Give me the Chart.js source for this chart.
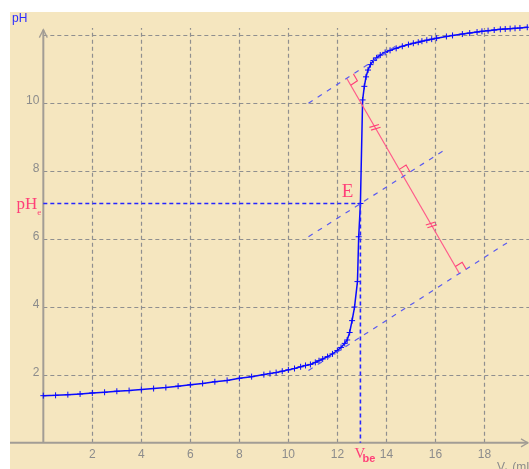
<!DOCTYPE html>
<html>
<head>
<meta charset="utf-8">
<script src="https://cdn.jsdelivr.net/npm/chart.js@4.4.1/dist/chart.umd.min.js"></script>
<style>
  html, body { margin: 0; padding: 0; background: #fff; }
  #chart { display: block; }
</style>
</head>
<body>
<canvas id="chart" width="529" height="469"></canvas>
<script>
// titration curve (V in mL, pH)
const volumes = [0, 0.5, 1.0, 1.5, 2.0, 2.5, 3.0, 3.5, 4.0, 4.5, 5.0, 5.5, 6.0, 6.5, 7.0, 7.5,
  8.0, 8.5, 9.0, 9.25, 9.5, 9.75, 10.0, 10.25, 10.5, 10.7, 10.9, 11.1, 11.25, 11.4, 11.6, 11.8,
  12.0, 12.15, 12.3, 12.4, 12.5, 12.6, 12.7, 12.82, 12.87, 12.94, 13.03,
  13.1, 13.17, 13.25, 13.35, 13.47, 13.6, 13.75, 13.95, 14.15, 14.4, 14.65, 14.9, 15.1,
  15.3, 15.45, 15.65, 15.85, 16.05, 16.45, 16.7, 17.1, 17.4, 17.7, 17.9, 18.15, 18.4, 18.65,
  18.85, 19.05, 19.25, 19.45, 19.75];
const phValues = [1.39, 1.40, 1.42, 1.44, 1.47, 1.49, 1.52, 1.54, 1.57, 1.60, 1.63, 1.67, 1.71, 1.75, 1.80, 1.84,
  1.90, 1.95, 2.01, 2.04, 2.07, 2.11, 2.15, 2.19, 2.24, 2.28, 2.31, 2.37, 2.42, 2.47, 2.54, 2.62,
  2.72, 2.81, 2.93, 3.03, 3.25, 3.6, 4.0, 4.75, 6.07, 7.05, 10.1,
  10.5, 10.78, 10.98, 11.14, 11.26, 11.34, 11.42, 11.50, 11.56, 11.62, 11.68, 11.73, 11.77,
  11.80, 11.83, 11.86, 11.89, 11.92, 11.97, 12.00, 12.04, 12.07, 12.10, 12.12, 12.14, 12.16, 12.18,
  12.19, 12.20, 12.21, 12.22, 12.24];

const xGrid = [2, 4, 6, 8, 10, 12, 14, 16, 18];
const xTickLabels = [2, 4, 6, 8, 10, 12, 14, 16, 18];
const yGrid = [2, 4, 6, 8, 10, 12];
const yTickLabels = [2, 4, 6, 8, 10];

// equivalence point
const eqVolume = 12.94;
const eqPh = 7.05;

// parallel tangents and their perpendicular: [V1, pH1, V2, pH2]
const tangentUpper = [10.82, 10.0, 14.56, 11.77];
const tangentMiddle = [10.82, 6.07, 16.45, 8.66];
const tangentLower = [10.82, 2.13, 19.05, 5.95];
const perpendicular = [12.38, 10.74, 16.98, 4.99];

const seg = s => [{ x: s[0], y: s[1] }, { x: s[2], y: s[3] }];

const curve = volumes.map((v, i) => ({ x: v, y: phValues[i] }));

const pink = "#ff3f78";
const tangentStyle = {
  borderColor: "#5a5af0",
  borderWidth: 1.2,
  borderDash: [5, 6],
  pointRadius: 0,
  showLine: true
};

// pixel helpers
function toPx(chart, v, p) {
  return { x: chart.scales.x.getPixelForValue(v), y: chart.scales.y.getPixelForValue(p) };
}
function segPx(chart, s) {
  return [toPx(chart, s[0], s[1]), toPx(chart, s[2], s[3])];
}
function intersect(a, b) {
  const d1x = a[1].x - a[0].x, d1y = a[1].y - a[0].y;
  const d2x = b[1].x - b[0].x, d2y = b[1].y - b[0].y;
  const den = d1x * d2y - d1y * d2x;
  const t = ((b[0].x - a[0].x) * d2y - (b[0].y - a[0].y) * d2x) / den;
  return { x: a[0].x + t * d1x, y: a[0].y + t * d1y };
}
function unit(a, b) {
  const dx = b.x - a.x, dy = b.y - a.y, l = Math.hypot(dx, dy);
  return { x: dx / l, y: dy / l };
}

const decor = {
  id: "decor",
  beforeDraw(chart) {
    const { ctx, chartArea: a } = chart;
    ctx.save();
    ctx.fillStyle = "#f5e6bf";
    ctx.fillRect(a.left, a.top, a.right - a.left, a.bottom - a.top);
    ctx.restore();
  },
  beforeDatasetsDraw(chart) {
    const { ctx, chartArea: a } = chart;
    const xs = chart.scales.x, ys = chart.scales.y;
    const x0 = xs.getPixelForValue(0), y0 = ys.getPixelForValue(0);
    ctx.save();

    // dashed grid
    ctx.strokeStyle = "#8f8f8f";
    ctx.lineWidth = 1.2;
    ctx.setLineDash([4, 3]);
    xGrid.forEach(v => {
      const x = Math.round(xs.getPixelForValue(v)) + 0.5;
      ctx.beginPath();
      ctx.moveTo(x, y0);
      ctx.lineTo(x, ys.getPixelForValue(12.22));
      ctx.stroke();
    });
    yGrid.forEach(v => {
      const y = Math.round(ys.getPixelForValue(v)) + 0.5;
      ctx.beginPath();
      ctx.moveTo(x0, y);
      ctx.lineTo(a.right, y);
      ctx.stroke();
    });

    // axes
    ctx.setLineDash([]);
    ctx.strokeStyle = "#a29d95";
    ctx.lineWidth = 2;
    const yTop = ys.getPixelForValue(12.17);
    ctx.beginPath();
    ctx.moveTo(a.left, y0);
    ctx.lineTo(a.right - 1, y0);
    ctx.moveTo(x0, y0);
    ctx.lineTo(x0, yTop);
    ctx.stroke();
    ctx.lineWidth = 1.3;
    ctx.beginPath();
    ctx.moveTo(x0 - 4, yTop + 8);
    ctx.lineTo(x0, yTop);
    ctx.lineTo(x0 + 4, yTop + 8);
    ctx.moveTo(a.right - 8, y0 - 4);
    ctx.lineTo(a.right - 1, y0);
    ctx.lineTo(a.right - 8, y0 + 4);
    ctx.stroke();

    // tick labels
    ctx.fillStyle = "#8c8c8c";
    ctx.font = "12px 'Liberation Sans', Arial, sans-serif";
    ctx.textAlign = "right";
    ctx.textBaseline = "alphabetic";
    yTickLabels.forEach(v => {
      ctx.fillText(String(v), x0 - 4, ys.getPixelForValue(v) + 1);
    });
    ctx.textAlign = "center";
    xTickLabels.forEach(v => {
      ctx.fillText(String(v), xs.getPixelForValue(v), y0 + 15.5);
    });

    // axis titles
    ctx.textAlign = "left";
    ctx.fillStyle = "#2b2bff";
    ctx.fillText("pH", 12, 22);
    ctx.fillStyle = "#8c8c8c";
    ctx.fillText("V", 497, 471);
    ctx.font = "8px 'Liberation Sans', Arial, sans-serif";
    ctx.fillText("L", 505, 473);
    ctx.font = "12px 'Liberation Sans', Arial, sans-serif";
    ctx.fillText(" (mL)", 509, 471);
    ctx.restore();
  },
  afterDatasetsDraw(chart) {
    const { ctx } = chart;
    const red = segPx(chart, perpendicular);
    const tans = [tangentUpper, tangentMiddle, tangentLower].map(t => segPx(chart, t));
    const hits = tans.map(t => intersect(red, t));
    const upLeft = unit(red[1], red[0]);
    const downRight = unit(red[0], red[1]);

    ctx.save();
    ctx.strokeStyle = pink;
    ctx.lineWidth = 1.1;
    // right-angle marks
    const s = 8;
    hits.forEach((p, i) => {
      const ut = unit(tans[i][0], tans[i][1]);
      const up = i === 0 ? downRight : upLeft;
      ctx.beginPath();
      ctx.moveTo(p.x + s * ut.x, p.y + s * ut.y);
      ctx.lineTo(p.x + s * ut.x + s * up.x, p.y + s * ut.y + s * up.y);
      ctx.lineTo(p.x + s * up.x, p.y + s * up.y);
      ctx.stroke();
    });
    // equal-length marks
    [[hits[0], hits[1]], [hits[1], hits[2]]].forEach(([p, q]) => {
      const m = { x: (p.x + q.x) / 2, y: (p.y + q.y) / 2 };
      const ang = -0.3;
      const dx = Math.cos(ang) * 5, dy = Math.sin(ang) * 5;
      [-1.6, 1.6].forEach(o => {
        const cx = m.x + o * downRight.x, cy = m.y + o * downRight.y;
        ctx.beginPath();
        ctx.moveTo(cx - dx, cy - dy);
        ctx.lineTo(cx + dx, cy + dy);
        ctx.stroke();
      });
    });

    // labels
    const e = toPx(chart, eqVolume, eqPh);
    const y0 = chart.scales.y.getPixelForValue(0);
    const x0 = chart.scales.x.getPixelForValue(0);
    ctx.fillStyle = pink;
    ctx.textBaseline = "alphabetic";
    ctx.font = "19px 'Liberation Serif', 'Times New Roman', serif";
    ctx.textAlign = "right";
    ctx.fillText("E", e.x - 7, e.y - 6);
    ctx.font = "17px 'Liberation Serif', 'Times New Roman', serif";
    ctx.fillText("pH", x0 - 6, e.y + 6);
    ctx.textAlign = "left";
    ctx.font = "9px 'Liberation Serif', serif";
    ctx.fillText("e", x0 - 6, e.y + 12);
    ctx.font = "15px 'Liberation Serif', 'Times New Roman', serif";
    ctx.fillText("V", e.x - 6, y0 + 15.5);
    ctx.font = "bold 11px 'Liberation Sans', Arial, sans-serif";
    ctx.fillText("be", e.x + 2, y0 + 19);
    ctx.restore();
  }
};

new Chart(document.getElementById("chart"), {
  type: "scatter",
  data: {
    datasets: [
      Object.assign({ data: seg(tangentUpper) }, tangentStyle),
      Object.assign({ data: seg(tangentMiddle) }, tangentStyle),
      Object.assign({ data: seg(tangentLower) }, tangentStyle),
      {
        data: seg(perpendicular),
        borderColor: "#ff5a8a",
        borderWidth: 1.2,
        pointRadius: 0,
        showLine: true
      },
      {
        data: [{ x: 0, y: eqPh }, { x: eqVolume, y: eqPh }],
        borderColor: "#2626ff",
        borderWidth: 1.6,
        borderDash: [4, 3],
        pointRadius: 0,
        showLine: true
      },
      {
        data: [{ x: eqVolume, y: eqPh }, { x: eqVolume, y: 0 }],
        borderColor: "#2626ff",
        borderWidth: 1.6,
        borderDash: [4, 3],
        pointRadius: 0,
        showLine: true
      },
      {
        data: curve,
        borderColor: "#0a0aff",
        borderWidth: 1.5,
        showLine: true,
        tension: 0,
        pointStyle: "cross",
        pointRadius: 3,
        pointBorderColor: "#0a0aff",
        pointBorderWidth: 1
      }
    ]
  },
  options: {
    responsive: false,
    devicePixelRatio: 1,
    animation: false,
    events: [],
    layout: { autoPadding: false, padding: { left: 10, top: 12, right: 0, bottom: 0 } },
    plugins: { legend: { display: false }, tooltip: { enabled: false } },
    scales: {
      x: { type: "linear", display: false, min: -1.36, max: 19.82 },
      y: { type: "linear", display: false, min: -0.77, max: 12.69 }
    }
  },
  plugins: [decor]
});
</script>
</body>
</html>
